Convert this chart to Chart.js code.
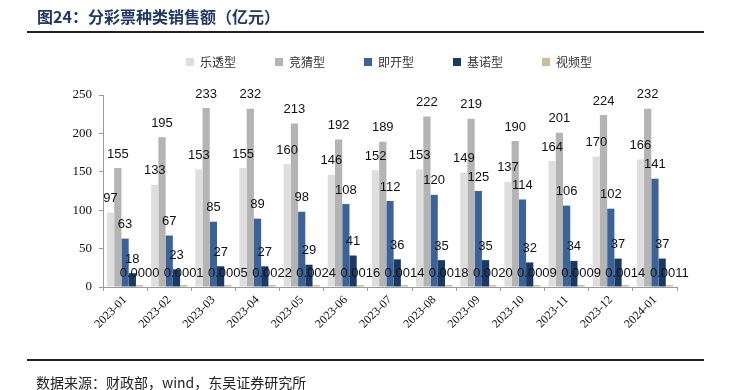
<!DOCTYPE html>
<html>
<head>
<meta charset="utf-8">
<script src="https://cdn.jsdelivr.net/npm/chart.js@4.4.1/dist/chart.umd.min.js"></script>
<style>
  body { margin: 0; background: #fff; }
  #wrap { position: relative; width: 731px; height: 390px; overflow: hidden; }
  #title { position: absolute; left: 37px; top: 4px; font: bold 16px "Noto Sans CJK SC"; color: #1f3864; white-space: nowrap; }
  .rule { position: absolute; left: 27px; width: 677px; height: 2px; background: #222; }
  #src { position: absolute; left: 36px; top: 372px; font: 14px "Noto Sans CJK SC"; color: #222; white-space: nowrap; }
  canvas { position: absolute; left: 0; top: 0; }
</style>
</head>
<body>
<div id="wrap">
  <canvas id="salesChart" width="731" height="390"></canvas>
  <div id="title">图24：分彩票种类销售额（亿元）</div>
  <div class="rule" style="top:31px"></div>
  <div class="rule" style="top:359px"></div>
  <div id="src">数据来源：财政部，wind，东吴证券研究所</div>
</div>
<script>
const months = ["2023-01", "2023-02", "2023-03", "2023-04", "2023-05", "2023-06", "2023-07",
                "2023-08", "2023-09", "2023-10", "2023-11", "2023-12", "2024-01"];
const lotto   = [97, 133, 153, 155, 160, 146, 152, 153, 149, 137, 164, 170, 166];
const sports  = [155, 195, 233, 232, 213, 192, 189, 222, 219, 190, 201, 224, 232];
const instant = [63, 67, 85, 89, 98, 108, 112, 120, 125, 114, 106, 102, 141];
const keno    = [18, 23, 27, 27, 29, 41, 36, 35, 35, 32, 34, 37, 37];
const video   = [0.0000, 0.0001, 0.0005, 0.0022, 0.0024, 0.0016, 0.0014, 0.0018, 0.0020, 0.0009, 0.0009, 0.0014, 0.0011];
const yTicks  = [0, 50, 100, 150, 200, 250];

// value labels above every bar
const barLabels = {
    id: "barLabels",
    afterDatasetsDraw(chart) {
        const ctx = chart.ctx;
        const y = chart.scales.y;
        ctx.save();
        ctx.font = '13px "Liberation Sans", Arial';
        ctx.fillStyle = "#111";
        ctx.textAlign = "center";
        ctx.textBaseline = "middle";
        chart.data.datasets.forEach((ds, i) => {
            let meta = chart.getDatasetMeta(i);
            meta.data.forEach((bar, j) => {
                let v = ds.data[j];
                let txt = i === 4 ? v.toFixed(4) : String(v);
                ctx.fillText(txt, bar.x, y.getPixelForValue(v) - 14);
            });
        });
        ctx.restore();
    }
};

const serif = { family: '"Liberation Serif", "Times New Roman", serif', size: 12 };

new Chart(document.getElementById("salesChart"), {
    type: "bar",
    data: {
        labels: months,
        datasets: [
            { label: "乐透型", data: lotto, backgroundColor: "#dedede" },
            { label: "竞猜型", data: sports, backgroundColor: "#b4b4b4" },
            { label: "即开型", data: instant, backgroundColor: "#3b6398" },
            { label: "基诺型", data: keno, backgroundColor: "#1a3a63" },
            { label: "视频型", data: video, backgroundColor: "#c7bd98", minBarLength: 2 }
        ]
    },
    options: {
        responsive: false,
        animation: false,
        categoryPercentage: 0.82,
        barPercentage: 1.0,
        // negative right padding widens the legend box so it centres like the original
        layout: { padding: { left: 0, right: -47, top: 17, bottom: 0 } },
        plugins: {
            legend: {
                labels: {
                    boxWidth: 8,
                    boxHeight: 8,
                    padding: 39,
                    color: "#333",
                    font: { family: '"Noto Sans CJK SC"', size: 12 }
                }
            },
            tooltip: { enabled: false }
        },
        scales: {
            x: {
                grid: { drawOnChartArea: false, tickLength: 4, color: "#999", offset: true },
                border: { color: "#999" },
                ticks: { minRotation: 45, maxRotation: 45, padding: 2, color: "#111", font: serif },
                afterFit(s) { s.height = 103; }
            },
            xTop: {
                position: "top",
                grid: { display: false },
                border: { display: false },
                ticks: { display: false },
                afterFit(s) { s.height = 17; }
            },
            y: {
                min: 0,
                max: 250,
                afterBuildTicks(s) { s.ticks = yTicks.map(v => ({ value: v })); },
                grid: { drawOnChartArea: false, tickLength: 4, color: "#999" },
                border: { color: "#999" },
                ticks: { padding: 7, color: "#111", font: { family: serif.family, size: 13 } },
                afterFit(s) { s.width = 103; }
            },
            yRight: {
                position: "right",
                grid: { display: false },
                border: { display: false },
                ticks: { display: false },
                afterFit(s) { s.width = 101; }
            }
        }
    },
    plugins: [barLabels]
});
</script>
</body>
</html>
